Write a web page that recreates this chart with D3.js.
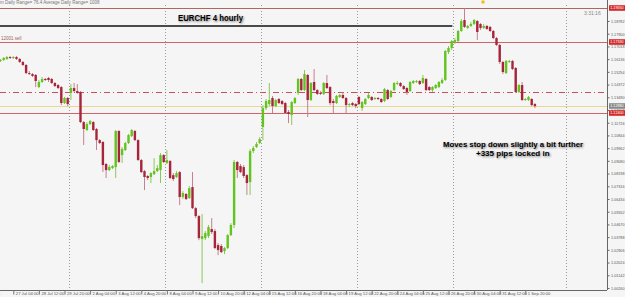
<!DOCTYPE html>
<html lang="en">
<head>
<meta charset="UTF-8">
<title>EURCHF 4 hourly</title>
<style>
  body { margin: 0; background: #f5f5f5; }
  svg text { font-family: "Liberation Sans", Arial, sans-serif; }
</style>
</head>
<body>
<script src="https://d3js.org/d3.v7.min.js"></script>
<script>
var width = 625, height = 297;

// 4h bars, left to right
var opens = [1.1601,1.1608,1.1615,1.1628,1.1622,1.1628,1.1615,1.1594,1.1573,1.1517,
  1.1510,1.1504,1.1420,1.1455,1.1476,1.1483,1.1476,1.1448,1.1434,1.1420,
  1.1309,1.1344,1.1379,1.1413,1.1392,1.1386,1.1177,1.1122,1.1163,1.1177,
  1.1129,1.1052,1.1039,1.0886,1.0844,1.0858,1.0865,1.1115,1.0948,1.0983,
  1.1032,1.1080,1.1115,1.1052,1.0914,1.0837,1.0803,1.0796,1.0816,1.0837,
  1.0844,1.0948,1.0893,1.0907,1.0809,1.0796,1.0830,1.0657,1.0678,1.0650,
  1.0726,1.0580,1.0525,1.0365,1.0372,1.0386,1.0435,1.0421,1.0324,1.0317,
  1.0282,1.0303,1.0393,1.0463,1.0900,1.0872,1.0865,1.0809,1.0761,1.0976,
  1.1004,1.1032,1.1143,1.1274,1.1302,1.1344,1.1288,1.1337,1.1323,1.1309,
  1.1247,1.1226,1.1309,1.1379,1.1476,1.1399,1.1504,1.1330,1.1455,1.1399,
  1.1379,1.1372,1.1448,1.1420,1.1323,1.1309,1.1351,1.1365,1.1344,1.1295,
  1.1309,1.1302,1.1351,1.1274,1.1302,1.1344,1.1351,1.1337,1.1344,1.1337,
  1.1323,1.1399,1.1351,1.1399,1.1441,1.1448,1.1427,1.1413,1.1392,1.1448,
  1.1455,1.1462,1.1448,1.1476,1.1420,1.1399,1.1413,1.1420,1.1448,1.1469,
  1.1663,1.1691,1.1733,1.1739,1.1809,1.1885,1.1830,1.1844,1.1857,1.1878,
  1.1857,1.1830,1.1844,1.1837,1.1809,1.1760,1.1712,1.1594,1.1517,1.1594,
  1.1601,1.1552,1.1386,1.1434,1.1330,1.1330,1.1337,1.1302];
var highs = [1.1615,1.1628,1.1635,1.1635,1.1635,1.1635,1.1622,1.1601,1.1580,1.1531,
  1.1517,1.1510,1.1469,1.1490,1.1483,1.1490,1.1483,1.1455,1.1441,1.1427,
  1.1351,1.1351,1.1441,1.1448,1.1441,1.1392,1.1184,1.1177,1.1191,1.1184,
  1.1136,1.1059,1.1045,1.0893,1.0879,1.0879,1.1122,1.1122,1.1004,1.1039,
  1.1094,1.1129,1.1122,1.1059,1.0921,1.0844,1.0809,1.0830,1.0927,1.0879,
  1.0962,1.0955,1.0983,1.0914,1.0823,1.0837,1.0837,1.0698,1.0685,1.0733,
  1.0830,1.0587,1.0532,1.0539,1.0421,1.0463,1.0511,1.0435,1.0338,1.0331,
  1.0310,1.0400,1.0476,1.0914,1.0907,1.0886,1.0879,1.0816,1.0990,1.1011,
  1.1039,1.1073,1.1295,1.1337,1.1448,1.1358,1.1337,1.1344,1.1330,1.1316,
  1.1261,1.1323,1.1351,1.1483,1.1483,1.1538,1.1510,1.1455,1.1545,1.1406,
  1.1392,1.1455,1.1504,1.1427,1.1337,1.1365,1.1372,1.1386,1.1351,1.1309,
  1.1316,1.1309,1.1358,1.1323,1.1344,1.1379,1.1358,1.1351,1.1351,1.1344,
  1.1413,1.1406,1.1399,1.1455,1.1462,1.1455,1.1434,1.1420,1.1462,1.1469,
  1.1469,1.1469,1.1504,1.1483,1.1427,1.1427,1.1441,1.1462,1.1483,1.1677,
  1.1705,1.1746,1.1760,1.1816,1.1892,1.1965,1.1851,1.1871,1.1892,1.1885,
  1.1864,1.1857,1.1851,1.1844,1.1816,1.1767,1.1719,1.1601,1.1608,1.1608,
  1.1608,1.1559,1.1441,1.1455,1.1344,1.1358,1.1344,1.1309];
var lows = [1.1594,1.1601,1.1608,1.1615,1.1615,1.1608,1.1587,1.1566,1.1510,1.1504,
  1.1490,1.1420,1.1413,1.1448,1.1462,1.1455,1.1441,1.1420,1.1406,1.1295,
  1.1302,1.1288,1.1330,1.1386,1.1372,1.1170,1.1018,1.1115,1.1157,1.1115,
  1.0983,1.1025,1.0830,1.0789,1.0837,1.0851,1.0789,1.0893,1.0893,1.0976,
  1.1025,1.1073,1.1045,1.0907,1.0823,1.0705,1.0775,1.0754,1.0809,1.0830,
  1.0754,1.0893,1.0886,1.0782,1.0768,1.0789,1.0601,1.0643,1.0636,1.0643,
  1.0574,1.0511,1.0358,1.0060,1.0358,1.0372,1.0400,1.0296,1.0254,1.0268,
  1.0261,1.0296,1.0386,1.0442,1.0789,1.0823,1.0789,1.0671,1.0671,1.0962,
  1.0997,1.1025,1.1052,1.1261,1.1288,1.1240,1.1281,1.1302,1.1295,1.1233,
  1.1170,1.1157,1.1302,1.1365,1.1392,1.1392,1.1212,1.1323,1.1392,1.1365,
  1.1365,1.1365,1.1406,1.1295,1.1240,1.1302,1.1344,1.1337,1.1240,1.1281,
  1.1288,1.1274,1.1295,1.1254,1.1295,1.1337,1.1323,1.1330,1.1330,1.1309,
  1.1316,1.1330,1.1344,1.1392,1.1434,1.1420,1.1399,1.1365,1.1386,1.1441,
  1.1448,1.1434,1.1441,1.1392,1.1392,1.1386,1.1406,1.1413,1.1441,1.1462,
  1.1649,1.1677,1.1719,1.1733,1.1802,1.1830,1.1823,1.1837,1.1851,1.1746,
  1.1816,1.1823,1.1816,1.1802,1.1753,1.1705,1.1580,1.1510,1.1510,1.1587,
  1.1538,1.1379,1.1379,1.1323,1.1323,1.1323,1.1288,1.1274];
var closes = [1.1608,1.1622,1.1628,1.1622,1.1628,1.1615,1.1594,1.1573,1.1517,1.1510,
  1.1497,1.1462,1.1455,1.1476,1.1469,1.1469,1.1448,1.1427,1.1413,1.1309,
  1.1344,1.1302,1.1413,1.1392,1.1379,1.1177,1.1129,1.1163,1.1184,1.1122,
  1.1052,1.1032,1.0879,1.0844,1.0865,1.0872,1.1115,1.0900,1.0990,1.1032,
  1.1087,1.1122,1.1052,1.0914,1.0830,1.0796,1.0789,1.0823,1.0837,1.0858,
  1.0948,1.0900,1.0914,1.0789,1.0782,1.0823,1.0657,1.0685,1.0643,1.0719,
  1.0580,1.0525,1.0372,1.0386,1.0407,1.0449,1.0414,1.0303,1.0289,1.0275,
  1.0303,1.0393,1.0463,1.0900,1.0844,1.0830,1.0803,1.0754,1.0976,1.0997,
  1.1025,1.1059,1.1274,1.1323,1.1330,1.1288,1.1330,1.1309,1.1302,1.1240,
  1.1233,1.1316,1.1344,1.1476,1.1399,1.1510,1.1330,1.1448,1.1399,1.1372,
  1.1372,1.1448,1.1413,1.1309,1.1309,1.1358,1.1365,1.1344,1.1295,1.1302,
  1.1295,1.1288,1.1302,1.1316,1.1337,1.1365,1.1330,1.1344,1.1337,1.1316,
  1.1406,1.1337,1.1392,1.1448,1.1448,1.1427,1.1406,1.1386,1.1455,1.1462,
  1.1462,1.1441,1.1483,1.1399,1.1399,1.1420,1.1434,1.1455,1.1469,1.1670,
  1.1691,1.1739,1.1746,1.1809,1.1878,1.1837,1.1844,1.1857,1.1885,1.1802,
  1.1830,1.1844,1.1823,1.1809,1.1760,1.1712,1.1594,1.1524,1.1601,1.1601,
  1.1545,1.1386,1.1434,1.1330,1.1337,1.1351,1.1295,1.1288];

var timeLabels = ['26 Jul 2011','27 Jul 04:00','28 Jul 12:00','29 Jul 20:00','2 Aug 04:00',
  '3 Aug 12:00','4 Aug 20:00','8 Aug 04:00','9 Aug 12:00','10 Aug 20:00','12 Aug 04:00',
  '15 Aug 12:00','16 Aug 20:00','18 Aug 04:00','19 Aug 12:00','22 Aug 20:00','24 Aug 04:00',
  '25 Aug 12:00','26 Aug 20:00','30 Aug 04:00','31 Aug 12:00','1 Sep 20:00'];
var timeLabelBars = [-7.5,4,12,20,28,36,44,52,60,68,76,84,92,100,108,116,124,132,140,148,156,164];

var priceTicks = [1.00260,1.01142,1.02024,1.02906,1.03788,1.04670,1.05552,1.06434,1.07316,1.08198,
  1.09080,1.09962,1.10844,1.11726,1.12608,1.13490,1.14372,1.15254,1.16136,1.17018,1.17900,1.18782];

var separatorBars = [21.5, 51.5, 81.5, 111.5, 141.5, 176.8];

var redLevels = [1.1965, 1.1733, 1.1240];
var pendingLevel = 1.1389;
var resistPrice = 1.1844, resistFrom = 0, resistTo = 141.2;

var candles = opens.map(function(o, i) {
    return {i: i, o: o, h: highs[i], l: lows[i], c: closes[i]};
});

var svg = d3.select('body').append('svg')
            .attr('width', width)
            .attr('height', height);

var defs = svg.append('defs');
defs.append('filter').attr('id', 'shadow')
    .append('feGaussianBlur').attr('stdDeviation', 0.9);
defs.append('clipPath').attr('id', 'plot')
    .append('rect').attr('x', 0).attr('y', 5).attr('width', 607).attr('height', 285);

svg.append('rect')
   .attr('width', width).attr('height', height)
   .attr('fill', '#f5f5f5');

var x = d3.scaleLinear().domain([0, 190]).range([0.5, 608.5]);
var y = d3.scaleLinear().domain([1.00260, 1.18782]).range([288, 21]);

var plot = svg.append('g').attr('clip-path', 'url(#plot)');

// week separators
plot.selectAll('line.sep')
    .data(separatorBars)
    .enter().append('line')
    .attr('class', 'sep')
    .attr('x1', function(d) { return Math.round(x(d)) + 0.5; })
    .attr('x2', function(d) { return Math.round(x(d)) + 0.5; })
    .attr('y1', 5).attr('y2', 290)
    .attr('stroke', '#9a9a9a')
    .attr('stroke-width', 1)
    .attr('stroke-dasharray', '1,2');

// horizontal levels
plot.selectAll('line.lvl')
    .data(redLevels)
    .enter().append('line')
    .attr('class', 'lvl')
    .attr('x1', 0).attr('x2', 607)
    .attr('y1', function(d) { return Math.round(y(d)) + 0.5; })
    .attr('y2', function(d) { return Math.round(y(d)) + 0.5; })
    .attr('stroke', function(d, i) { return i === 0 ? '#b0675f' : '#d4626c'; })
    .attr('stroke-width', 1);

plot.append('line')
    .attr('x1', 0).attr('x2', 607)
    .attr('y1', Math.round(y(pendingLevel)) + 0.5)
    .attr('y2', Math.round(y(pendingLevel)) + 0.5)
    .attr('stroke', '#c8505a')
    .attr('stroke-dasharray', '6,3,1,3');

var bid = closes[closes.length - 1];
plot.append('line')
    .attr('x1', 0).attr('x2', 607)
    .attr('y1', Math.round(y(bid)) + 0.5)
    .attr('y2', Math.round(y(bid)) + 0.5)
    .attr('stroke', '#e6d88e');

plot.append('line')
    .attr('x1', x(resistFrom) - 1).attr('x2', x(resistTo))
    .attr('y1', y(resistPrice)).attr('y2', y(resistPrice))
    .attr('stroke', '#4a4a4a')
    .attr('stroke-width', 2);

// candles
var up = function(d) { return d.c >= d.o; };

plot.selectAll('line.wick')
    .data(candles)
    .enter().append('line')
    .attr('class', 'wick')
    .attr('x1', function(d) { return x(d.i); })
    .attr('x2', function(d) { return x(d.i); })
    .attr('y1', function(d) { return y(d.h); })
    .attr('y2', function(d) { return y(d.l); })
    .attr('stroke', function(d) { return up(d) ? '#88c95a' : '#c8808c'; })
    .attr('stroke-width', 1);

plot.selectAll('rect.body')
    .data(candles)
    .enter().append('rect')
    .attr('class', 'body')
    .attr('x', function(d) { return x(d.i) - 1.2; })
    .attr('width', 2.4)
    .attr('y', function(d) { return y(Math.max(d.o, d.c)); })
    .attr('height', function(d) { return Math.max(1, Math.abs(y(d.o) - y(d.c))); })
    .attr('fill', function(d) { return up(d) ? '#62c41c' : '#a8243a'; });

// axes
var yAxis = d3.axisRight(y)
              .tickValues(priceTicks)
              .tickFormat(d3.format('.5f'))
              .tickSize(2);
var gy = svg.append('g')
            .attr('transform', 'translate(607.5,0)')
            .call(yAxis);
gy.select('.domain').attr('d', 'M0,0V290').attr('stroke', '#666');
gy.selectAll('line').attr('stroke', '#666');
gy.selectAll('text')
  .attr('font-size', 4.2).attr('fill', '#555').attr('x', 3.5)
  .attr('textLength', 13.5).attr('lengthAdjust', 'spacingAndGlyphs');

var xAxis = d3.axisBottom(x)
              .tickValues(timeLabelBars)
              .tickFormat(function(d, i) { return timeLabels[i]; })
              .tickSize(4);
var gx = svg.append('g')
            .attr('transform', 'translate(0,290.5)')
            .call(xAxis);
gx.select('.domain').attr('d', 'M0,0H607').attr('stroke', '#666');
gx.selectAll('line').attr('stroke', '#777');
gx.selectAll('text')
  .attr('font-size', 4.2).attr('fill', '#555')
  .attr('text-anchor', 'start').attr('x', 2).attr('y', 1.5).attr('dy', '0.71em');

// price tags on the right
var tags = svg.selectAll('g.tag')
    .data(redLevels.map(function(v) { return {v: v, fill: '#d42a2a'}; })
          .concat([{v: bid, fill: '#8a8a8a'}]))
    .enter().append('g')
    .attr('class', 'tag')
    .attr('transform', function(d) { return 'translate(609,' + Math.round(y(d.v)) + ')'; });
tags.append('rect')
    .attr('x', 0).attr('y', -2.8).attr('width', 16).attr('height', 5.6)
    .attr('fill', function(d) { return d.fill; });
tags.append('text')
    .attr('x', 1.2).attr('y', 0).attr('dy', '0.35em')
    .attr('font-size', 4.2).attr('fill', '#fff')
    .attr('textLength', 13.5).attr('lengthAdjust', 'spacingAndGlyphs')
    .text(function(d) { return d3.format('.5f')(d.v); });

// texts
svg.append('text').attr('x', 0).attr('y', 4)
   .attr('font-size', 4.5).attr('fill', '#777')
   .text('m Daily Range= 76.4    Average Daily Range= 1008');

svg.append('text').attr('x', 1).attr('y', y(redLevels[1]) - 2)
   .attr('font-size', 4.5).attr('fill', '#a06060')
   .text('12001 sell');

svg.append('text').attr('x', 584).attr('y', 15)
   .attr('font-size', 5).attr('fill', '#888')
   .text('3:31:16');

svg.append('circle').attr('cx', 483).attr('cy', 2).attr('r', 1.8).attr('fill', '#f0c020');

function shadowText(tx, ty, size, len, str) {
    var t1 = svg.append('text').attr('x', tx + 1).attr('y', ty + 1)
       .attr('font-size', size).attr('font-weight', 'bold')
       .attr('fill', '#777').attr('filter', 'url(#shadow)')
       .text(str);
    var t2 = svg.append('text').attr('x', tx).attr('y', ty)
       .attr('font-size', size).attr('font-weight', 'bold')
       .attr('fill', '#000')
       .text(str);
    if (len) {
        t1.attr('textLength', len).attr('lengthAdjust', 'spacingAndGlyphs');
        t2.attr('textLength', len).attr('lengthAdjust', 'spacingAndGlyphs');
    }
}

shadowText(178, 21, 9, 65, 'EURCHF 4 hourly');
shadowText(443, 147, 8, 140, 'Moves stop down slightly a bit further');
shadowText(476, 156, 8, 0, '+335 pips locked in');
</script>
</body>
</html>
